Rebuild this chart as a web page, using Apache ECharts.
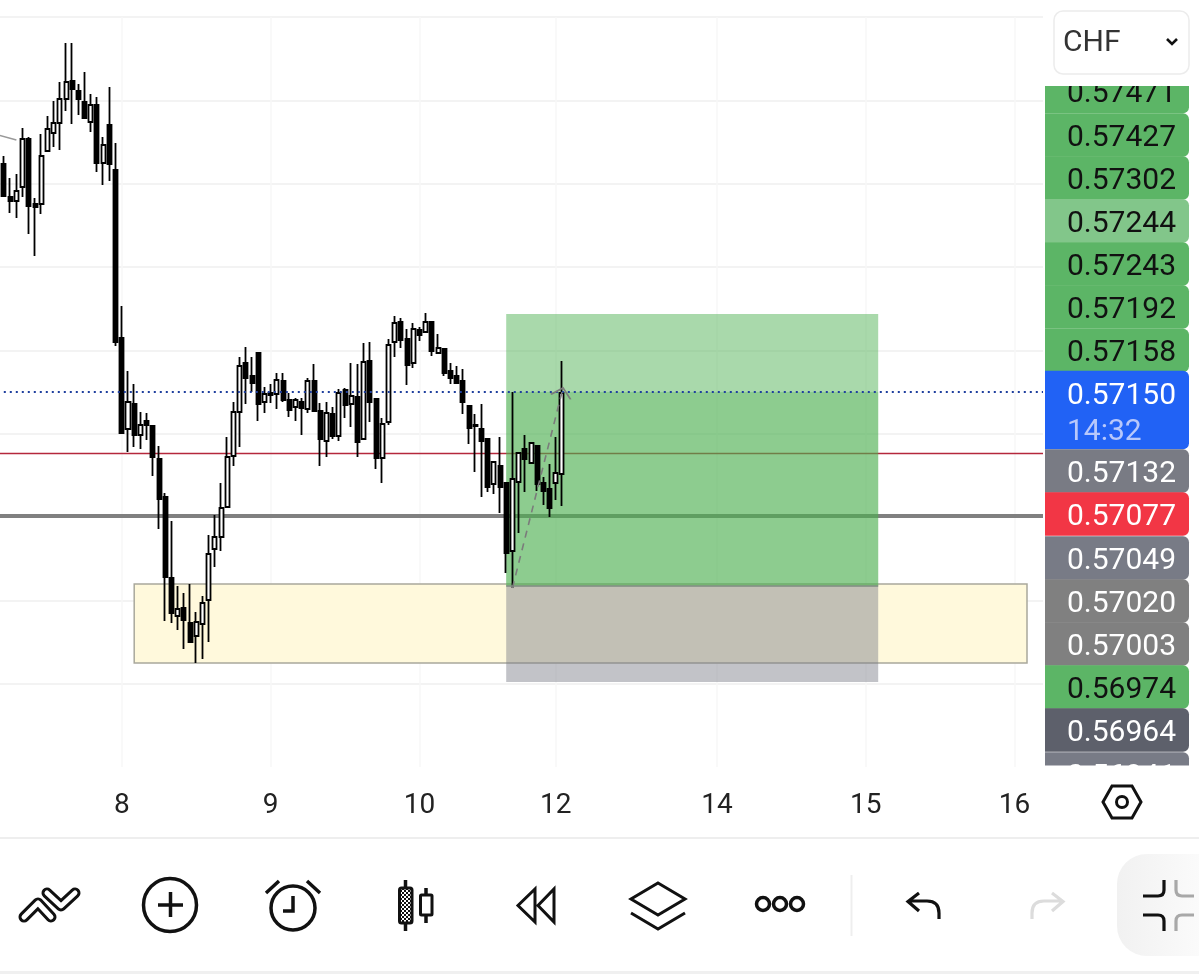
<!DOCTYPE html>
<html>
	<head>
		<meta charset="UTF-8" />
		<title>CHF</title>
		<style>
			html, body { margin: 0; padding: 0; background: #fff; overflow: hidden; }
			#pic { position: absolute; left: 0; top: 0; width: 1199px; height: 974px; }
			#icons { position: absolute; left: 0; top: 0; pointer-events: none; }
		</style>
	</head>
	<body>
		<div id="pic"></div>
		<!-- toolbar icons -->
		<svg id="icons" width="1199" height="974" fill="none" stroke="#111" stroke-width="3.5">
			<defs>
				<linearGradient id="fade" x1="0" x2="1" y1="0" y2="0">
					<stop offset="0" stop-color="#f1f1f1" />
					<stop offset="1" stop-color="#ffffff" />
				</linearGradient>
				<pattern id="checks" width="4" height="4" patternUnits="userSpaceOnUse">
					<rect width="4" height="4" fill="#111" stroke="none" />
					<rect width="2" height="2" fill="#fff" stroke="none" />
					<rect x="2" y="2" width="2" height="2" fill="#fff" stroke="none" />
				</pattern>
			</defs>
			<!-- hexagon -->
			<polygon points="1103,802 1112,786 1132,786 1141,802 1132,818 1112,818" stroke-width="3" />
			<circle cx="1122" cy="802" r="5.5" stroke-width="3" />
			<!-- drawings -->
			<path d="M24 917 L38 903 L51 917 M47 893 L61 906 L75 893" stroke-width="11" stroke-linecap="round" stroke-linejoin="round" />
			<path d="M24 917 L38 903 L51 917 M47 893 L61 906 L75 893" stroke="#fff" stroke-width="5" stroke-linecap="round" stroke-linejoin="round" />
			<!-- add -->
			<circle cx="170" cy="905" r="26.5" />
			<path d="M158 905 H183 M170.5 892 V917" />
			<!-- alarm -->
			<circle cx="293" cy="908" r="22" />
			<path d="M293 896 V911 H283 M266 893 L279 881 M307 881 L320 893" />
			<!-- candles -->
			<path d="M405.5 880 V931 M426 888 V923" stroke-width="3.5" />
			<rect x="399.5" y="888" width="12.5" height="35" rx="2" fill="url(#checks)" stroke-width="3" />
			<rect x="420.5" y="895" width="11.5" height="20" rx="1" fill="#fff" stroke-width="3" />
			<!-- replay -->
			<path d="M535 889 V922 L518 905.5 Z M554 889 V922 L538 905.5 Z" stroke-width="3" />
			<!-- layers -->
			<path d="M658 883 L685 899 L658 915 L631 899 Z M631 913 L658 929 L685 913" stroke-width="3" />
			<!-- more -->
			<circle cx="763" cy="904" r="6.5" />
			<circle cx="780" cy="904" r="6.5" />
			<circle cx="797" cy="904" r="6.5" />
			<path d="M851.5 875 V936" stroke="#eee" stroke-width="2" />
			<!-- undo, redo -->
			<path d="M939 919 V913 Q939 901 927 901 H909 M919 893 L908 901.5 L919 911" stroke-width="3.2" />
			<path d="M1032 919 V913 Q1032 901 1044 901 H1062 M1052 893 L1063 901.5 L1052 911" stroke="#dcdcdc" stroke-width="3.2" />
			<!-- fullscreen -->
			<rect x="1117" y="854" width="120" height="102" rx="30" fill="url(#fade)" stroke="none" />
			<path d="M1143 896 H1158 Q1164 896 1164 890 V880 M1143 915 H1158 Q1164 915 1164 921 V931" stroke-width="3.2" />
			<path d="M1176 880 V890 Q1176 896 1182 896 H1194 M1194 915 H1182 Q1176 915 1176 921 V931" stroke="#a8a8a8" stroke-width="3.2" />
			<!-- currency chevron -->
			<path d="M1167 39 L1172 44 L1177 39" stroke-width="2.6" />
		</svg>

		<script src="https://cdn.jsdelivr.net/npm/echarts@6/dist/echarts.min.js"></script>
		<script>
			// candle values
			var opens = [0.572868,0.572670,0.572646,0.572730,0.573018,0.572628,0.572628,0.572946,0.573054,0.573114,0.573258,0.573366,0.573306,0.573240,0.573120,0.573222,0.572874,0.573102,0.572832,0.571824,0.571278,0.571428,0.571242,0.571326,0.571296,0.571098,0.570870,0.570384,0.570156,0.570204,0.570114,0.570036,0.570108,0.570252,0.570558,0.570630,0.570810,0.571116,0.571380,0.571674,0.571596,0.571734,0.571440,0.571494,0.571488,0.571566,0.571452,0.571410,0.571440,0.571398,0.571566,0.571386,0.571206,0.571368,0.571236,0.571512,0.571428,0.571470,0.571218,0.571686,0.571458,0.571104,0.571320,0.571800,0.571920,0.571818,0.571674,0.571872,0.571860,0.571920,0.571734,0.571758,0.571626,0.571596,0.571566,0.571416,0.571302,0.571278,0.571218,0.570948,0.571056,0.570954,0.570546,0.570960,0.571158,0.571074,0.571176,0.570954,0.570918,0.570954,0.571008];
			var closes = [0.572676,0.572646,0.572706,0.573018,0.572616,0.572610,0.572916,0.573078,0.573114,0.573258,0.573360,0.573318,0.573258,0.573144,0.573222,0.572874,0.572982,0.572868,0.571800,0.571254,0.571440,0.571242,0.571302,0.571302,0.571110,0.570858,0.570390,0.570174,0.570198,0.570132,0.570000,0.570120,0.570234,0.570528,0.570630,0.570804,0.571110,0.571380,0.571656,0.571584,0.571554,0.571428,0.571488,0.571482,0.571572,0.571452,0.571392,0.571452,0.571404,0.571566,0.571386,0.571218,0.571374,0.571236,0.571494,0.571422,0.571476,0.571200,0.571680,0.571440,0.571104,0.571308,0.571782,0.571914,0.571812,0.571662,0.571878,0.571842,0.571920,0.571746,0.571764,0.571614,0.571584,0.571554,0.571440,0.571284,0.571296,0.571206,0.570930,0.571080,0.570930,0.570534,0.570978,0.571134,0.571098,0.571194,0.570948,0.570906,0.570804,0.571014,0.571494];
			var lows = [0.572676,0.572574,0.572544,0.572670,0.572448,0.572316,0.572568,0.572940,0.572970,0.572952,0.573186,0.573108,0.573162,0.573144,0.573060,0.572820,0.572742,0.572766,0.571776,0.571248,0.571140,0.571170,0.571158,0.571212,0.570996,0.570678,0.570126,0.570114,0.570072,0.569958,0.569994,0.569874,0.569898,0.570000,0.570450,0.570546,0.570810,0.571056,0.571170,0.571428,0.571500,0.571326,0.571374,0.571434,0.571398,0.571440,0.571350,0.571326,0.571242,0.571374,0.571380,0.571056,0.571110,0.571218,0.571206,0.571344,0.571290,0.571110,0.571212,0.571320,0.571038,0.570954,0.571302,0.571710,0.571764,0.571542,0.571644,0.571806,0.571854,0.571716,0.571728,0.571596,0.571548,0.571548,0.571368,0.571188,0.571020,0.570870,0.570900,0.570888,0.570774,0.570414,0.570324,0.570654,0.570900,0.571068,0.570906,0.570822,0.570750,0.570852,0.570816];
			var highs = [0.572916,0.572784,0.572808,0.573084,0.573030,0.572664,0.573048,0.573156,0.573246,0.573360,0.573594,0.573594,0.573348,0.573420,0.573288,0.573270,0.573030,0.573330,0.572994,0.572016,0.571626,0.571548,0.571380,0.571374,0.571296,0.571176,0.570894,0.570726,0.570336,0.570294,0.570348,0.570180,0.570276,0.570642,0.570762,0.570954,0.571230,0.571440,0.571710,0.571770,0.571710,0.571734,0.571530,0.571548,0.571614,0.571614,0.571494,0.571464,0.571464,0.571584,0.571668,0.571434,0.571440,0.571410,0.571518,0.571524,0.571674,0.571668,0.571794,0.571800,0.571458,0.571344,0.571818,0.571956,0.571944,0.571878,0.571914,0.571890,0.571974,0.571920,0.571848,0.571758,0.571674,0.571656,0.571638,0.571416,0.571368,0.571428,0.571218,0.571080,0.571230,0.570954,0.571500,0.571140,0.571242,0.571200,0.571176,0.570990,0.571068,0.571230,0.571686];

			// x axis
			var barCount = 170;
			var tickIndex = [20, 44, 68, 90, 116, 140, 164];
			var tickLabels = ['8', '9', '10', '12', '14', '15', '16'];

			// price levels and drawn zones
			var lastPrice = 0.5715;
			var redLevel = 0.571134;
			var greyLevel = 0.57076;
			var targetPrice = 0.571968;
			var entryPrice = 0.570336;
			var stopPrice = 0.56976;
			var boxTop = 0.570348;
			var boxBottom = 0.569874;
			var zoneBars = [82, 142];
			var boxBars = [22, 166];

			// right hand price tags
			var tagLabels = ['0.57471','0.57427','0.57302','0.57244','0.57243','0.57192','0.57158','0.57150','0.57132','0.57077','0.57049','0.57020','0.57003','0.56974','0.56964','0.56941'];
			var tagCenters = [91.5,135,178,221,264,307,350.5,410,471,514,558,601,644,687,730,774];
			var tagColors = ['#5cb566','#5cb566','#5cb566','#82c68a','#5cb566','#5cb566','#5cb566','#2162f5','#797b84','#f23645','#787b86','#808080','#808080','#5cb566','#5d606b','#787b86'];
			var tagInk = ['#111','#111','#111','#111','#111','#111','#111','#fff','#fff','#fff','#fff','#fff','#fff','#111','#fff','#fff'];

			var categories = [];
			for (var i = 0; i < barCount; i++) categories.push(String(i));

			var candles = opens.map(function(o, i) {
				return [o, closes[i], lows[i], highs[i]];
			});
			candles.unshift('-'); // bar 0 sits off the left edge

			var graphics = [
				{ type: 'rect', z: 100, shape: { x: 1043, y: 0, width: 156, height: 838 }, style: { fill: '#fff' } }
			];
			tagLabels.forEach(function(label, i) {
				var h = label === '0.57150' ? 78.5 : 43.5;
				graphics.push({
					type: 'rect', z: 101,
					shape: { x: 1045, y: tagCenters[i] - h / 2, width: 144, height: h, r: [0, 6, 6, 0] },
					style: { fill: tagColors[i] }
				});
				graphics.push({
					type: 'text', z: 102, x: 1176, y: (label === '0.57150' ? 393 : tagCenters[i]) + 3,
					style: { text: label, fill: tagInk[i], font: '30px Roboto', textAlign: 'right', textVerticalAlign: 'middle' }
				});
			});
			graphics.push(
				{ type: 'text', z: 102, x: 1067, y: 432, style: { text: '14:32', fill: '#b8c8fb', font: '30px Roboto', textVerticalAlign: 'middle' } },
				// crops the tag column
				{ type: 'rect', z: 103, shape: { x: 1043, y: 0, width: 156, height: 86 }, style: { fill: '#fff' } },
				{ type: 'rect', z: 103, shape: { x: 1043, y: 765.5, width: 156, height: 70 }, style: { fill: '#fff' } },
				{ type: 'rect', z: 104, shape: { x: 1054, y: 11, width: 135, height: 63, r: 9 }, style: { fill: '#fff', stroke: '#ececec', lineWidth: 1.5 } },
				{ type: 'text', z: 105, x: 1063, y: 43, style: { text: 'CHF', fill: '#333', font: '30px Roboto', textVerticalAlign: 'middle' } },
				{ type: 'rect', z: 105, shape: { x: 0, y: 837, width: 1199, height: 2 }, style: { fill: '#eeeeee' } },
				{ type: 'rect', z: 105, shape: { x: 0, y: 971, width: 1199, height: 3 }, style: { fill: '#f0f0f0' } }
			);

			var lastBar = barCount - 1;
			var myChart = echarts.init(document.getElementById('pic'));
			myChart.setOption({
				animation: false,
				backgroundColor: '#fff',
				grid: { left: -2.2, top: 17, width: 6.2 * lastBar, height: 750, outerBoundsMode: 'none' },
				xAxis: {
					type: 'category',
					data: categories,
					boundaryGap: false,
					axisLine: { show: false },
					axisTick: { show: false },
					axisLabel: {
						margin: 25,
						fontFamily: 'Roboto',
						fontSize: 28,
						color: '#222',
						hideOverlap: false,
						interval: function(index) { return tickIndex.indexOf(index) >= 0; },
						formatter: function(value, index) { return tickLabels[tickIndex.indexOf(index)] || ''; }
					},
					splitLine: {
						show: true,
						interval: function(index) { return tickIndex.indexOf(index) >= 0; },
						lineStyle: { color: '#f7f7f7', width: 1.5 }
					}
				},
				yAxis: {
					type: 'value',
					position: 'right',
					min: 0.56925,
					max: 0.57375,
					interval: 0.00025,
					axisLine: { show: false },
					axisTick: { show: false },
					axisLabel: { show: false },
					splitLine: {
						show: true,
						showMinLine: false,
						lineStyle: { color: ['transparent', '#f3f3f3'], width: 2 }
					}
				},
				series: [
					{
						name: 'levels',
						type: 'line',
						data: [],
						markLine: {
							z: 0,
							silent: true,
							symbol: 'none',
							label: { show: false },
							data: [
								[{ coord: [0, redLevel], lineStyle: { color: '#b5283c', width: 1.4, type: 'solid' } }, { coord: [lastBar, redLevel] }],
								[{ coord: [0, greyLevel], lineStyle: { color: '#808080', width: 4, type: 'solid' } }, { coord: [lastBar, greyLevel] }]
							]
						}
					},
					{
						name: 'CHF',
						type: 'candlestick',
						data: candles,
						barWidth: 4.5,
						itemStyle: {
							color: '#ffffff',
							color0: '#000000',
							borderColor: '#000000',
							borderColor0: '#000000',
							borderWidth: 1.8
						},
						markArea: {
							silent: true,
							label: { show: false },
							data: [
								[{ xAxis: boxBars[0], yAxis: boxTop, itemStyle: { color: '#fff9dc', borderColor: '#a9a89c', borderWidth: 1.5 } }, { xAxis: boxBars[1], yAxis: boxBottom }],
								[{ xAxis: zoneBars[0], yAxis: entryPrice, itemStyle: { color: 'rgba(120,123,134,0.45)' } }, { xAxis: zoneBars[1], yAxis: stopPrice }],
								[{ xAxis: zoneBars[0], yAxis: targetPrice, itemStyle: { color: 'rgba(76,175,80,0.48)' } }, { xAxis: zoneBars[1], yAxis: entryPrice }],
								[{ xAxis: zoneBars[0], yAxis: lastPrice, itemStyle: { color: 'rgba(76,175,80,0.3)' } }, { xAxis: zoneBars[1], yAxis: entryPrice }]
							]
						}
					},
					{
						name: 'drawings',
						type: 'line',
						data: [],
						markLine: {
							z: 3,
							silent: true,
							symbol: 'none',
							label: { show: false },
							data: [
								[{ coord: [0, lastPrice], lineStyle: { color: '#1f3f9e', width: 2, type: [2, 4] } }, { coord: [lastBar, lastPrice] }],
								[{ coord: [zoneBars[0], entryPrice], lineStyle: { color: '#7d8a80', width: 1.5, type: 'solid' } }, { coord: [zoneBars[1], entryPrice] }],
								[{ coord: [0, 0.573042], lineStyle: { color: '#999', width: 1.5, type: 'solid' } }, { coord: [3, 0.573012] }],
								[{ coord: [83, 0.570324], symbol: 'none', lineStyle: { color: '#7b7b7b', width: 1.6, type: [7, 6] } },
								 { coord: [91, 0.5715], symbol: 'path://M10 0 L20 13 L18.4 14 L10 3 L1.6 14 L0 13 Z', symbolSize: [22, 11] }]
							]
						}
					}
				],
				graphic: graphics
			});
		</script>
	</body>
</html>
